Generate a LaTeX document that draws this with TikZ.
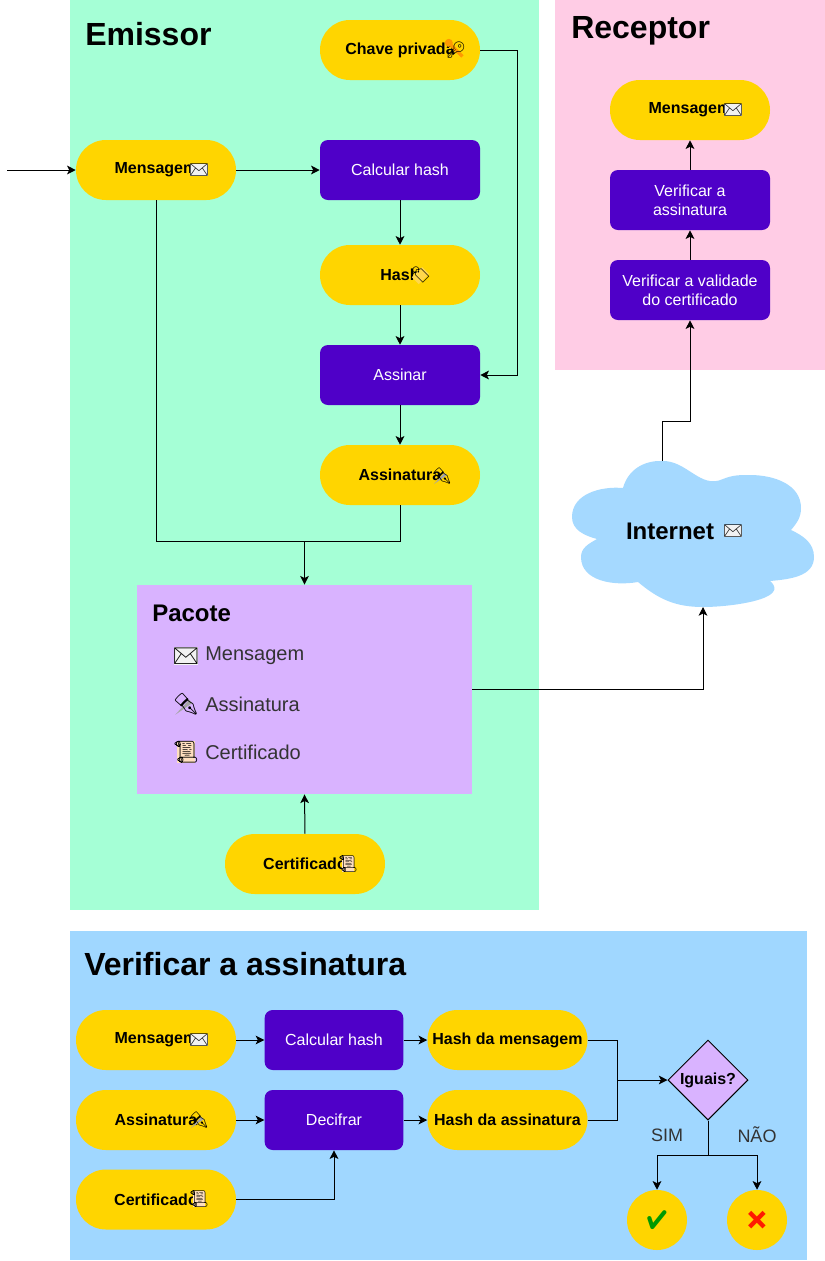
\documentclass[tikz,border=0pt]{standalone}
\usepackage{fontspec}
\setmainfont{Liberation Sans}
\newfontfamily\emojifont{Noto Emoji}
\usetikzlibrary{arrows.meta,shapes.geometric}
\definecolor{mint}{HTML}{A5FFD6}
\definecolor{rosa}{HTML}{FFCCE5}
\definecolor{ceu}{HTML}{A0D7FF}
\definecolor{lilas}{HTML}{D9B3FF}
\definecolor{ouro}{HTML}{FFD500}
\definecolor{roxo}{HTML}{4F00C8}
\tikzset{
pill/.style={fill=ouro,rounded corners=22.4pt,minimum width=120pt,minimum height=45pt,inner sep=0pt,font=\bfseries\fontsize{12}{14}\selectfont},
proc/.style={fill=roxo,text=white,rounded corners=6pt,minimum width=120pt,minimum height=45pt,inner sep=0pt,align=center,font=\fontsize{12}{14.5}\selectfont},
title/.style={anchor=west,inner sep=0pt,font=\bfseries\fontsize{24}{28}\selectfont},
flow/.style={-{Stealth[length=6.5pt,width=6.5pt,inset=1.6pt]},line width=0.75pt},
link/.style={line width=0.75pt},
item/.style={anchor=west,inner sep=0pt,text=black!80,font=\fontsize{15}{18}\selectfont},
emoji/.style={inner sep=0pt,font=\emojifont\fontsize{#1}{#1}\selectfont},
mail/.pic={\fill[black!5,x=#1 pt,y=#1 pt] (-.55,-.4) rectangle (.55,.4); \node[emoji=#1]{✉};},
keyic/.pic={\fill[orange!80!yellow,x=#1 pt,y=#1 pt] (-.45,.45) circle (.25); \draw[orange!80!yellow,line width=.22*#1 pt,x=#1 pt,y=#1 pt] (-.4,.4) -- (.4,-.4); \node[emoji=#1]{🔑};},
tagic/.pic={\fill[orange!45!yellow!70!white,x=#1 pt,y=#1 pt,rotate=45] (-.5,-.3) rectangle (.4,.3); \node[emoji=#1]{🏷};},
pen/.pic={\fill[black!35,x=#1 pt,y=#1 pt] (-.5,-.5) -- (.15,.2) -- (.3,.05) -- cycle; \node[emoji=#1]{✒};},
scrollic/.pic={\fill[orange!25!white,x=#1 pt,y=#1 pt] (-.4,-.5) rectangle (.4,.5); \node[emoji=#1]{📜};},
globe/.pic={\fill[blue!65!cyan,x=#1 pt,y=#1 pt] (0,0) circle (.55); \node[emoji=#1,text=black]{🌎};}
}
\newcommand{\pad}{\hspace{22pt}}
\begin{document}
\begin{tikzpicture}[x=0.75pt,y=-0.75pt]
\useasboundingbox (0,0) rectangle (825,1261);
\fill[mint] (70,0) rectangle (539,910);
\fill[rosa] (555,0) rectangle (825,370);
\fill[ceu] (70,931) rectangle (807,1260);
\node[title] (emissor) at (85,34) {Emissor};
\node[title] (receptor) at (571,31) {Receptor};
\node[title] (verificar) at (84,964) {Verificar a assinatura};

\node[pill] (chave) at (400,50) {Chave privada\pad};
\node[pill] (msg) at (156,170) {Mensagem\pad};
\node[proc] (calc) at (400,170) {Calcular hash};
\node[pill] (hash) at (400,275) {Hash\pad};
\node[proc] (sign) at (400,375) {Assinar};
\node[pill] (sig) at (400,475) {Assinatura\pad};
\node[fill=lilas,minimum width=251pt,minimum height=157pt,inner sep=0pt] (pack) at (304.5,689.5) {};
\node[anchor=west,inner sep=0pt,font=\bfseries\fontsize{18}{21}\selectfont] (packtitle) at (152,613) {Pacote};
\node[item] (packmsg) at (205,656) {Mensagem};
\node[item] (packsig) at (205,704) {Assinatura};
\node[item] (packcert) at (205,752) {Certificado};
\node[pill] (cert) at (305,864) {Certificado\pad};

\node[pill] (rmsg) at (690,110) {Mensagem\pad};
\node[proc] (rsig) at (690,200) {Verificar a\\assinatura};
\node[proc] (rval) at (690,290) {Verificar a validade\\do certificado};

\fill[ceu!95!white] (662,461) to[out=2,in=205] (723,479) to[out=22,in=180] (750,475) to[out=0,in=90] (801,508) to[out=-90,in=50] (791,530) to[out=-25,in=90] (814,557) to[out=-90,in=5] (770,581) to[out=-40,in=0] (703,607) to[out=180,in=-40] (638,582) to[out=-170,in=-90] (581,557) to[out=90,in=-150] (597,539) to[out=165,in=-90] (572,517) to[out=90,in=175] (623,488) to[out=75,in=178] (662,461) -- cycle;
\coordinate (cloudtop) at (662,461);
\coordinate (cloudbot) at (703,607);
\node[inner sep=0pt,font=\bfseries\fontsize{18}{21}\selectfont] (net) at (670,531) {Internet};

\node[pill] (vmsg) at (156,1040) {Mensagem\pad};
\node[pill] (vsig) at (156,1120) {Assinatura\pad};
\node[pill] (vcert) at (156,1199.5) {Certificado\pad};
\node[proc,minimum width=104pt] (vcalc) at (334,1040) {Calcular hash};
\node[proc,minimum width=104pt] (vdec) at (334,1120) {Decifrar};
\node[pill] (vhm) at (507.5,1040) {Hash da mensagem};
\node[pill] (vhs) at (507.5,1120) {Hash da assinatura};
\node[diamond,draw,line width=0.75pt,fill=lilas,minimum width=60pt,minimum height=60pt,inner sep=0pt,font=\bfseries\fontsize{12}{14}\selectfont] (equal) at (708,1080) {Iguais?};
\node[circle,fill=ouro,minimum size=45pt,inner sep=0pt,font=\emojifont\fontsize{14}{14}\selectfont,text=green!60!black] (yes) at (657,1220) {✔};
\node[circle,fill=ouro,minimum size=45pt,inner sep=0pt,font=\emojifont\fontsize{14}{14}\selectfont,text=red!80!orange] (no) at (757,1220) {✖};
\node[inner sep=0pt,text=black!80,font=\fontsize{13.5}{16}\selectfont] (simlabel) at (667,1135) {SIM};
\node[inner sep=0pt,text=black!80,font=\fontsize{13.5}{16}\selectfont] (naolabel) at (757,1135) {NÃO};

\pic at (199,170) {mail=12};
\pic at (456,50) {keyic=12};
\pic at (421,275) {tagic=12};
\pic at (442,476) {pen=12};
\pic at (186,656) {mail=16};
\pic at (186,704) {pen=16};
\pic at (186,752) {scrollic=16};
\pic at (348,864) {scrollic=12};
\pic at (733,531) {mail=12};
\pic at (733,110) {mail=12};
\pic at (199,1040) {mail=12};
\pic at (199,1120) {pen=12};
\pic at (199,1199) {scrollic=12};

\coordinate (start) at (7,170);
\coordinate (join) at (304.5,541);
\coordinate (bend) at (662,421);
\coordinate (merge) at (617,1080);
\coordinate (split) at (708,1155);
\draw[flow] (start) -- (msg);
\draw[flow] (msg) -- (calc);
\draw[flow] (calc) -- (hash);
\draw[flow] (hash) -- (sign);
\draw[flow] (sign) -- (sig);
\draw[flow] (chave.east) -| (517,375) -- (sign.east);
\draw[link] (msg.south) |- (join);
\draw[link] (sig.south) |- (join);
\draw[flow] (join) -- (pack.north);
\draw[flow] (cert.north) -- (pack.south);
\draw[flow] (pack.east) -| (cloudbot);
\draw[flow] (cloudtop) -- (bend) -| (rval.south);
\draw[flow] (rval) -- (rsig);
\draw[flow] (rsig) -- (rmsg);
\draw[flow] (vmsg) -- (vcalc);
\draw[flow] (vcalc) -- (vhm);
\draw[flow] (vsig) -- (vdec);
\draw[flow] (vdec) -- (vhs);
\draw[flow] (vcert.east) -| (vdec.south);
\draw[link] (vhm.east) -| (merge);
\draw[link] (vhs.east) -| (merge);
\draw[flow] (merge) -- (equal.west);
\draw[link] (equal.south) -- (split);
\draw[flow] (split) -| (yes.north);
\draw[flow] (split) -| (no.north);
\end{tikzpicture}
\end{document}
